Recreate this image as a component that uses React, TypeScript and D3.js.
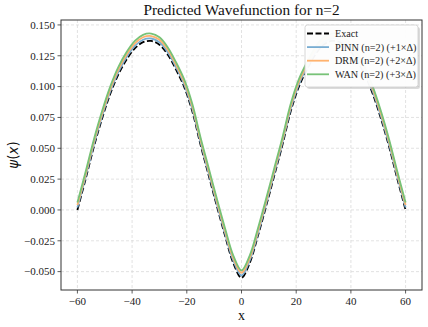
import { useMemo } from 'react';
import * as d3 from 'd3';

// x grid of the sampled curves
const xs = [-60, -57, -54, -51, -48, -45, -42, -39, -36, -33, -30, -27, -24, -21, -18, -15, -12, -9, -6, -3, 0,
  3, 6, 9, 12, 15, 18, 21, 24, 27, 30, 33, 36, 39, 42, 45, 48, 51, 54, 57, 60];

const exact = [0.000, 0.025, 0.051, 0.074, 0.094, 0.110, 0.122, 0.131, 0.136, 0.137, 0.134, 0.126, 0.114, 0.100, 0.080, 0.053, 0.028, 0.003, -0.021, -0.043, -0.055,
  -0.043, -0.021, 0.003, 0.028, 0.053, 0.080, 0.100, 0.114, 0.126, 0.134, 0.137, 0.136, 0.131, 0.122, 0.110, 0.094, 0.074, 0.051, 0.025, 0.000];

const pinn = [0.002, 0.027, 0.053, 0.076, 0.096, 0.112, 0.124, 0.133, 0.138, 0.139, 0.136, 0.128, 0.116, 0.102, 0.082, 0.055, 0.030, 0.005, -0.019, -0.041, -0.053,
  -0.041, -0.019, 0.005, 0.030, 0.055, 0.082, 0.102, 0.116, 0.128, 0.136, 0.139, 0.138, 0.133, 0.124, 0.112, 0.096, 0.076, 0.053, 0.027, 0.002];

const drm = [0.004, 0.029, 0.055, 0.078, 0.098, 0.114, 0.126, 0.135, 0.140, 0.141, 0.138, 0.130, 0.118, 0.104, 0.084, 0.057, 0.032, 0.007, -0.017, -0.039, -0.051,
  -0.039, -0.017, 0.007, 0.032, 0.057, 0.084, 0.104, 0.118, 0.130, 0.138, 0.141, 0.140, 0.135, 0.126, 0.114, 0.098, 0.078, 0.055, 0.029, 0.004];

const wan = [0.006, 0.031, 0.057, 0.080, 0.100, 0.116, 0.128, 0.137, 0.142, 0.143, 0.140, 0.132, 0.120, 0.106, 0.086, 0.059, 0.034, 0.009, -0.015, -0.037, -0.049,
  -0.037, -0.015, 0.009, 0.034, 0.059, 0.086, 0.106, 0.120, 0.132, 0.140, 0.143, 0.142, 0.137, 0.128, 0.116, 0.100, 0.080, 0.057, 0.031, 0.006];

const xTicks = [-60, -40, -20, 0, 20, 40, 60];
const yTicks = [-0.05, -0.025, 0, 0.025, 0.05, 0.075, 0.1, 0.125, 0.15];

const series = [
  { name: 'PINN (n=2) (+1×Δ)', values: pinn, color: '#79add2' },
  { name: 'DRM (n=2) (+2×Δ)', values: drm, color: '#ffb26e' },
  { name: 'WAN (n=2) (+3×Δ)', values: wan, color: '#77c277' },
];

const W = 428;
const H = 327;
const margin = { top: 20, right: 6, bottom: 37, left: 61 };
const serif = '"Liberation Serif", "Times New Roman", serif';

const fmtY = (v: number) => d3.format('.3f')(v).replace('-', '\u2212');
const fmtX = (v: number) => String(v).replace('-', '\u2212');

export default function App() {
  const x = useMemo(() => d3.scaleLinear().domain([-66, 66]).range([margin.left, W - margin.right]), []);
  const y = useMemo(() => d3.scaleLinear().domain([-0.0649, 0.154]).range([H - margin.bottom, margin.top]), []);

  const line = d3.line<number>()
    .x((_, i) => x(xs[i]))
    .y(d => y(d))
    .curve(d3.curveCatmullRom);

  const left = margin.left;
  const right = W - margin.right;
  const top = margin.top;
  const bottom = H - margin.bottom;

  // legend box
  const lx = 305;
  const ly = 25;
  const lw = 113;
  const lh = 62;
  const rows = [{ name: 'Exact', color: '#000', dash: true }, ...series.map(s => ({ name: s.name, color: s.color, dash: false }))];

  return (
    <svg width={W} height={H} style={{ position: 'absolute', left: 0, top: 0 }} fontFamily={serif}>
      <rect x={0} y={0} width={W} height={H} fill="#fff" />
      <defs>
        <clipPath id="plot">
          <rect x={left} y={top} width={right - left} height={bottom - top} />
        </clipPath>
      </defs>

      {/* grid */}
      {xTicks.map(t => (
        <line key={'gx' + t} x1={x(t)} x2={x(t)} y1={top} y2={bottom} stroke="#d6d6d6" strokeWidth={0.7} strokeDasharray="3,2" />
      ))}
      {yTicks.map(t => (
        <line key={'gy' + t} x1={left} x2={right} y1={y(t)} y2={y(t)} stroke="#d6d6d6" strokeWidth={0.7} strokeDasharray="3,2" />
      ))}

      <g clipPath="url(#plot)">
        <path d={line(exact) ?? ''} fill="none" stroke="#000" strokeWidth={1.8} strokeDasharray="6,2.5" />
        {series.map(s => (
          <path key={s.name} d={line(s.values) ?? ''} fill="none" stroke={s.color} strokeWidth={1.8} />
        ))}
      </g>

      {/* spines */}
      <rect x={left} y={top} width={right - left} height={bottom - top} fill="none" stroke="#333" strokeWidth={1} />

      {/* y ticks */}
      {yTicks.map(t => (
        <g key={'ty' + t}>
          <line x1={left - 3.5} x2={left} y1={y(t)} y2={y(t)} stroke="#333" strokeWidth={0.8} />
          <text x={left - 6} y={y(t)} dy="0.34em" textAnchor="end" fontSize={11} fill="#222">{fmtY(t)}</text>
        </g>
      ))}
      {/* x ticks */}
      {xTicks.map(t => (
        <g key={'tx' + t}>
          <line x1={x(t)} x2={x(t)} y1={bottom} y2={bottom + 3.5} stroke="#333" strokeWidth={0.8} />
          <text x={x(t)} y={bottom + 15} textAnchor="middle" fontSize={11} fill="#222">{fmtX(t)}</text>
        </g>
      ))}

      {/* labels */}
      <text x={(left + right) / 2} y={15} textAnchor="middle" fontSize={15.3} fill="#111">Predicted Wavefunction for n=2</text>
      <text x={(left + right) / 2} y={320} textAnchor="middle" fontSize={14} fill="#111">x</text>
      <text transform={`translate(18,${(top + bottom) / 2}) rotate(-90)`} textAnchor="middle" fontSize={13.5} fill="#111"
        fontFamily='"DejaVu Sans", sans-serif'>
        <tspan fontStyle="italic">ψ</tspan>(<tspan fontStyle="italic">x</tspan>)
      </text>

      {/* legend */}
      <rect x={lx + 2} y={ly + 2} width={lw} height={lh} rx={2.5} fill="#999" opacity={0.35} />
      <rect x={lx} y={ly} width={lw} height={lh} rx={2.5} fill="#fff" fillOpacity={0.95} stroke="#ccc" strokeWidth={0.8} />
      {rows.map((r, i) => {
        const ry = ly + 8.5 + i * 13.6;
        return (
          <g key={r.name}>
            <line x1={lx + 2} x2={lx + 24} y1={ry} y2={ry} stroke={r.color} strokeWidth={1.8}
              strokeDasharray={r.dash ? '6,2.5' : undefined} />
            <text x={lx + 30} y={ry} dy="0.34em" fontSize={10.2} fill="#222">{r.name}</text>
          </g>
        );
      })}
    </svg>
  );
}
